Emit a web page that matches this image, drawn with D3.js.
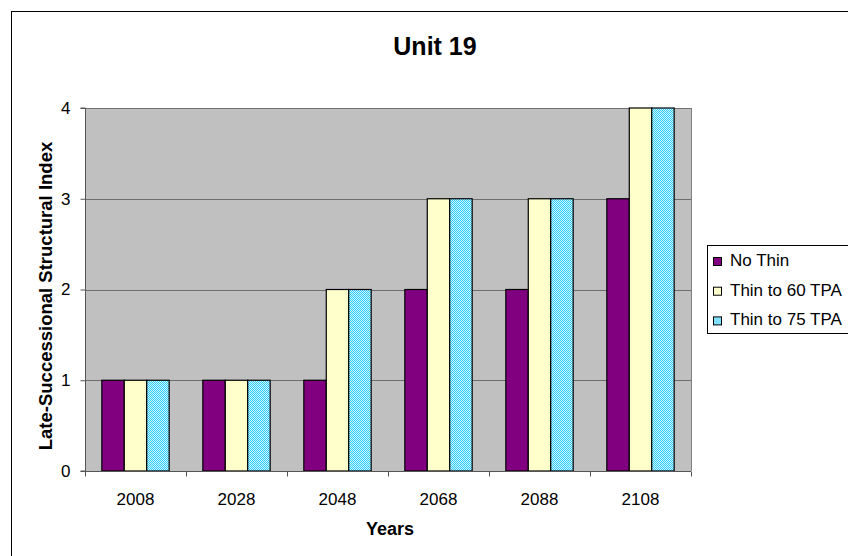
<!DOCTYPE html>
<html>
<head>
<meta charset="utf-8">
<script src="https://cdn.jsdelivr.net/npm/d3@7"></script>
<style>
  body { margin: 0; background: #fff; }
  svg { display: block; font-family: Arial, "Liberation Sans", sans-serif; }
</style>
</head>
<body>
<svg id="chart" width="848" height="556"></svg>
<script>
// Chart data
const years = ["2008", "2028", "2048", "2068", "2088", "2108"];
const seriesNames = ["No Thin", "Thin to 60 TPA", "Thin to 75 TPA"];
const noThin = [1, 1, 1, 2, 2, 3];
const thin60 = [1, 1, 2, 3, 3, 4];
const thin75 = [1, 1, 2, 3, 3, 4];
const yTicks = [0, 1, 2, 3, 4];

const seriesValues = [noThin, thin60, thin75];
const svg = d3.select("#chart");

// Checkered fill for the third series
const defs = svg.append("defs");
const pat = defs.append("pattern")
  .attr("id", "checker").attr("width", 2).attr("height", 2)
  .attr("patternUnits", "userSpaceOnUse");
pat.append("rect").attr("width", 2).attr("height", 2).attr("fill", "#ccf6ff");
pat.append("rect").attr("width", 1).attr("height", 1).attr("fill", "#33ccff");
pat.append("rect").attr("x", 1).attr("y", 1).attr("width", 1).attr("height", 1).attr("fill", "#33ccff");

const fills = ["#800080", "#ffffcc", "url(#checker)"];

// Outer chart border (runs past the right and bottom edges)
svg.append("rect").attr("x", 11.5).attr("y", 11.5).attr("width", 900).attr("height", 600)
  .attr("fill", "none").attr("stroke", "#000").attr("stroke-width", 1);

const plot = { left: 85, top: 108, right: 691, bottom: 471 };

const x = d3.scaleBand().domain(years).range([plot.left, plot.right]).paddingInner(0).paddingOuter(0);
const y = d3.scaleLinear().domain([0, 4]).range([plot.bottom, plot.top]);

// Plot background
svg.append("rect")
  .attr("x", plot.left).attr("y", plot.top)
  .attr("width", plot.right - plot.left).attr("height", plot.bottom - plot.top)
  .attr("fill", "#c0c0c0");

// Gridlines
svg.append("g").selectAll("line").data(yTicks.filter(d => d > 0)).join("line")
  .attr("x1", plot.left).attr("x2", plot.right)
  .attr("y1", d => Math.round(y(d)) + 0.5).attr("y2", d => Math.round(y(d)) + 0.5)
  .attr("stroke", "#6e6e6e").attr("stroke-width", 1);

// Plot area right edge
svg.append("line")
  .attr("x1", plot.right + 0.5).attr("x2", plot.right + 0.5)
  .attr("y1", plot.top).attr("y2", plot.bottom)
  .attr("stroke", "#808080");

// Bars: gap width 150% of bar width
const barW = x.bandwidth() / 4.5;
seriesValues.forEach((vals, si) => {
  svg.append("g").selectAll("rect").data(vals).join("rect")
    .attr("x", (d, i) => x(years[i]) + barW * 0.75 + si * barW)
    .attr("y", d => y(d))
    .attr("width", barW)
    .attr("height", d => y(0) - y(d))
    .attr("fill", fills[si])
    .attr("stroke", "#000").attr("stroke-width", 1.2);
});

// Y axis
const yAxis = d3.axisLeft(y).tickValues(yTicks).tickSize(5).tickPadding(10).tickFormat(d3.format("d"));
const gy = svg.append("g").attr("transform", `translate(${plot.left + 0.5},0)`).call(yAxis);
gy.select(".domain").attr("stroke", "#555").attr("d", `M-5,${plot.top}H0V${plot.bottom}H-5`);
gy.selectAll(".tick line").attr("stroke", "#555");
gy.selectAll("text").attr("font-size", 17).attr("fill", "#000").attr("font-family", "Arial, 'Liberation Sans', sans-serif");

// X axis with ticks between categories
const gx = svg.append("g").attr("transform", `translate(0,${plot.bottom + 0.5})`);
gx.append("line").attr("x1", plot.left).attr("x2", plot.right).attr("stroke", "#555");
const boundaries = years.map(d => x(d)).concat([plot.right]);
gx.selectAll("line.tk").data(boundaries).join("line").attr("class", "tk")
  .attr("x1", d => Math.round(d) + 0.5).attr("x2", d => Math.round(d) + 0.5)
  .attr("y1", 0).attr("y2", 5).attr("stroke", "#555");
gx.selectAll("text").data(years).join("text")
  .attr("x", d => x(d) + x.bandwidth() / 2)
  .attr("y", 33)
  .attr("text-anchor", "middle")
  .attr("font-size", 17)
  .text(d => d);

// Titles
svg.append("text").attr("x", 435).attr("y", 55).attr("text-anchor", "middle")
  .attr("font-size", 25).attr("font-weight", "bold").text("Unit 19");
svg.append("text").attr("x", 390).attr("y", 535).attr("text-anchor", "middle")
  .attr("font-size", 18).attr("font-weight", "bold").text("Years");
svg.append("text")
  .attr("transform", `translate(52,296) rotate(-90)`)
  .attr("text-anchor", "middle")
  .attr("font-size", 18.5).attr("font-weight", "bold").text("Late-Successional Structural Index");

// Legend
const lg = svg.append("g");
lg.append("rect").attr("x", 707.5).attr("y", 245.5).attr("width", 200).attr("height", 88)
  .attr("fill", "#fff").attr("stroke", "#000");
const items = lg.selectAll("g").data(seriesNames).join("g")
  .attr("transform", (d, i) => `translate(0,${266 + i * 29.7})`);
items.append("rect").attr("x", 713.5).attr("y", -8.5).attr("width", 8).attr("height", 8)
  .attr("fill", (d, i) => fills[i]).attr("stroke", "#000");
items.append("text").attr("x", 730).attr("y", 0).attr("font-size", 17).text(d => d);
</script>
</body>
</html>
